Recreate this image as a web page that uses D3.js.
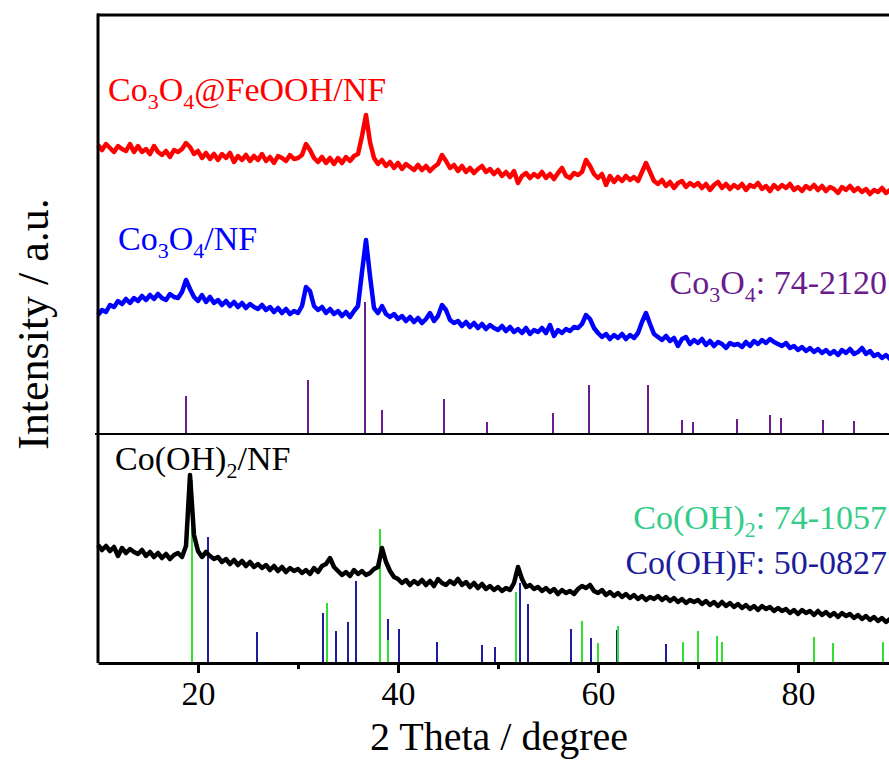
<!DOCTYPE html>
<html>
<head>
<meta charset="utf-8">
<script src="https://cdn.jsdelivr.net/npm/d3@7/dist/d3.min.js"></script>
<style>
  body { margin: 0; background: #fff; }
  svg { display: block; }
</style>
</head>
<body>
<script>
// scans are sampled every 0.4 degree from 10 to 90
const thetaStart = 10;
const thetaStep = 0.4;

const feoohScan = [
  289, 284, 290, 286, 282, 288, 285, 283, 290, 282,
  288, 282, 285, 280, 288, 282, 279, 283, 277, 284,
  282, 285, 291, 287, 280, 283, 276, 281, 275, 280,
  274, 280, 276, 281, 272, 278, 274, 279, 273, 278,
  274, 280, 273, 277, 271, 278, 276, 273, 279, 275,
  276, 279, 290, 284, 276, 272, 277, 271, 276, 270,
  276, 271, 277, 273, 278, 280, 298, 319, 292, 276,
  270, 274, 268, 272, 266, 271, 265, 270, 267, 264,
  269, 264, 268, 263, 267, 270, 279, 273, 266, 269,
  263, 268, 262, 266, 261, 265, 268, 262, 265, 260,
  264, 258, 262, 257, 263, 251, 258, 261, 256, 260,
  257, 262, 256, 260, 255, 261, 266, 258, 256, 261,
  259, 262, 274, 268, 260, 256, 260, 249, 258, 252,
  257, 253, 258, 254, 257, 253, 262, 271, 262, 253,
  250, 254, 248, 252, 246, 251, 253, 247, 251, 248,
  251, 246, 250, 244, 249, 252, 246, 250, 245, 249,
  246, 250, 244, 249, 247, 251, 245, 248, 243, 249,
  245, 249, 246, 250, 244, 247, 243, 248, 245, 249,
  244, 248, 243, 247, 245, 241, 247, 244, 248, 243,
  246, 242, 245, 240, 244, 242, 246, 241, 244, 242,
  243
];

const co3o4Scan = [
  119, 124, 122, 129, 127, 133, 130, 135, 131, 136,
  133, 138, 134, 139, 135, 140, 136, 134, 140, 137,
  136, 142, 154, 145, 137, 133, 139, 132, 137, 131,
  134, 129, 133, 128, 132, 127, 131, 126, 130, 127,
  125, 129, 124, 127, 122, 126, 121, 125, 120, 123,
  121, 128, 147, 143, 128, 124, 127, 121, 125, 120,
  123, 118, 122, 117, 123, 128, 162, 194, 158, 126,
  121, 128, 120, 117, 120, 115, 118, 113, 117, 112,
  116, 111, 115, 121, 113, 118, 129, 124, 114, 111,
  113, 108, 112, 107, 111, 106, 110, 105, 109, 106,
  104, 108, 103, 107, 102, 105, 101, 106, 100, 104,
  102, 106, 101, 109, 98, 104, 101, 105, 103, 107,
  106, 110, 119, 115, 106, 101, 97, 100, 95, 99,
  96, 100, 95, 99, 96, 101, 112, 121, 110, 100,
  97, 94, 98, 93, 96, 88, 95, 97, 90, 94,
  91, 95, 89, 93, 88, 92, 90, 86, 91, 89,
  90, 87, 92, 88, 93, 90, 94, 91, 95, 92,
  90, 88, 91, 86, 88, 84, 87, 83, 86, 82,
  85, 81, 84, 80, 83, 79, 84, 81, 85, 80,
  82, 86, 80, 83, 78, 80, 76, 79, 75, 77,
  76
];

const cooh2Scan = [
  118, 113, 117, 112, 116, 107, 115, 110, 114, 111,
  109, 113, 107, 111, 106, 110, 105, 109, 104, 108,
  110, 106, 117, 188, 128, 112, 106, 111, 107, 104,
  106, 101, 104, 99, 103, 98, 102, 97, 101, 96,
  99, 95, 98, 93, 97, 92, 96, 91, 95, 92,
  94, 90, 93, 89, 95, 91, 97, 99, 105, 96,
  92, 88, 91, 87, 93, 89, 92, 88, 90, 94,
  96, 115, 101, 92, 86, 84, 80, 83, 78, 82,
  79, 83, 78, 82, 77, 84, 80, 78, 82, 79,
  84, 78, 81, 76, 80, 75, 79, 74, 77, 73,
  76, 72, 75, 73, 80, 96, 84, 76, 78, 74,
  76, 72, 75, 71, 74, 69, 73, 70, 72, 69,
  74, 77, 75, 78, 72, 70, 73, 68, 71, 67,
  70, 66, 69, 65, 68, 64, 67, 63, 66, 64,
  67, 63, 66, 62, 65, 61, 64, 60, 63, 61,
  63, 59, 62, 58, 61, 57, 61, 57, 60, 56,
  59, 55, 58, 54, 57, 53, 57, 54, 56, 52,
  55, 52, 54, 50, 53, 49, 53, 50, 52, 48,
  52, 48, 51, 47, 50, 46, 50, 47, 49, 45,
  48, 44, 47, 43, 46, 42, 45, 41, 44, 42,
  43
];

// reference cards (peak position, stick height)
const co3o4RefPos = [18.8, 31.0, 36.7, 38.4, 44.6, 48.9, 55.5, 59.1, 65.0, 68.4, 69.5, 73.9, 77.2, 78.3, 82.5, 85.6];
const co3o4RefInt = [38, 54, 132, 24, 35, 12, 21, 49, 49, 14, 12, 15, 19, 16, 14, 13];

const coohfRefPos = [21.0, 25.9, 32.5, 33.8, 35.0, 35.8, 39.0, 40.1, 43.9, 48.4, 49.7, 52.2, 53.0, 57.3, 59.3, 61.9, 66.8];
const coohfRefInt = [126, 31, 50, 32, 41, 82, 44, 34, 21, 18, 16, 80, 59, 34, 25, 33, 19];

const cooh2RefPos = [19.4, 32.9, 38.2, 39.0, 51.8, 58.4, 60.0, 62.0, 68.5, 70.0, 71.9, 72.4, 81.6, 83.5, 88.5];
const cooh2RefInt = [183, 60, 134, 23, 71, 42, 20, 37, 21, 32, 27, 21, 26, 20, 21];

const majorTicks = [20, 40, 60, 80];
const minorTicks = [30, 50, 70];

const W = 889, H = 760;
const padLeft = 98, padRight = 898, padTop = 15, split = 434, padBottom = 663;
const font = "'Times New Roman', 'Liberation Serif', serif";

const svg = d3.select('body').append('svg')
  .attr('width', W)
  .attr('height', H)
  .style('font-family', font);

const x = d3.scaleLinear().domain([10, 90]).range([padLeft, padRight]);
const yTop = d3.scaleLinear().domain([0, split - padTop]).range([split, padTop]);
const yBot = d3.scaleLinear().domain([0, padBottom - split]).range([padBottom, split]);

function scanLine(y) {
  return d3.line()
    .x((d, i) => x(thetaStart + i * thetaStep))
    .y(d => y(d));
}

function drawSticks(pos, vals, y, color) {
  svg.append('g')
    .selectAll('line')
    .data(pos)
    .join('line')
    .attr('x1', d => x(d))
    .attr('x2', d => x(d))
    .attr('y1', y(0))
    .attr('y2', (d, i) => y(vals[i]))
    .attr('stroke', color)
    .attr('stroke-width', 2);
}

// reference sticks
drawSticks(co3o4RefPos, co3o4RefInt, yTop, '#6a1b8c');
drawSticks(coohfRefPos, coohfRefInt, yBot, '#1c1c9c');
drawSticks(cooh2RefPos, cooh2RefInt, yBot, '#33dd33');

// measured scans
const scans = [
  { data: feoohScan, y: yTop, color: '#ff0000' },
  { data: co3o4Scan, y: yTop, color: '#0000ff' },
  { data: cooh2Scan, y: yBot, color: '#000000' }
];
scans.forEach(s => {
  svg.append('path')
    .datum(s.data)
    .attr('fill', 'none')
    .attr('stroke', s.color)
    .attr('stroke-width', 4.5)
    .attr('stroke-linejoin', 'round')
    .attr('d', scanLine(s.y));
});

// frame
svg.append('line')
  .attr('x1', padLeft - 1).attr('x2', padRight)
  .attr('y1', padTop).attr('y2', padTop)
  .attr('stroke', '#000').attr('stroke-width', 3);
svg.append('line')
  .attr('x1', padLeft).attr('x2', padLeft)
  .attr('y1', padTop - 1.5).attr('y2', padBottom)
  .attr('stroke', '#000').attr('stroke-width', 3);
svg.append('line')
  .attr('x1', padLeft - 3).attr('x2', padRight)
  .attr('y1', split).attr('y2', split)
  .attr('stroke', '#000').attr('stroke-width', 2);

// x axis
const xAxis = svg.append('g')
  .attr('transform', `translate(0,${padBottom})`)
  .call(d3.axisBottom(x).tickValues(majorTicks).tickSize(10).tickSizeOuter(0).tickPadding(8));
xAxis.select('.domain').attr('stroke-width', 3);
xAxis.selectAll('.tick line').attr('stroke-width', 3);
xAxis.selectAll('.tick text')
  .attr('font-family', font)
  .attr('font-size', 34)
  .attr('fill', '#000');

const xMinor = svg.append('g')
  .attr('transform', `translate(0,${padBottom})`)
  .call(d3.axisBottom(x).tickValues(minorTicks).tickSize(6).tickSizeOuter(0).tickFormat(''));
xMinor.select('.domain').remove();
xMinor.selectAll('.tick line').attr('stroke-width', 3);

svg.append('text')
  .attr('x', 499).attr('y', 750)
  .attr('text-anchor', 'middle')
  .attr('font-size', 40)
  .text('2 Theta / degree');

svg.append('text')
  .attr('transform', 'translate(48,324) rotate(-90)')
  .attr('text-anchor', 'middle')
  .attr('font-size', 44)
  .text('Intensity / a.u.');

// labels with subscripts: parts are plain strings or [subscript]
function label(parts, px, py, color, anchor) {
  const t = svg.append('text')
    .attr('x', px).attr('y', py)
    .attr('fill', color)
    .attr('font-size', 34)
    .attr('text-anchor', anchor || 'start');
  let shift = 0;
  parts.forEach(p => {
    const sub = typeof p !== 'string';
    const target = sub ? 8 : 0;
    t.append('tspan')
      .attr('font-size', sub ? 22 : 34)
      .attr('dy', target - shift)
      .text(sub ? p[0] : p);
    shift = target;
  });
}

label(['Co', ['3'], 'O', ['4'], '@FeOOH/NF'], 108, 101, '#ff0000');
label(['Co', ['3'], 'O', ['4'], '/NF'], 118, 250, '#0000ff');
label(['Co', ['3'], 'O', ['4'], ': 74-2120'], 887, 294, '#6a1b8c', 'end');
label(['Co(OH)', ['2'], '/NF'], 115, 470, '#000000');
label(['Co(OH)', ['2'], ': 74-1057'], 887, 529, '#33cc88', 'end');
label(['Co(OH)F: 50-0827'], 887, 574, '#1c1c9c', 'end');
</script>
</body>
</html>
